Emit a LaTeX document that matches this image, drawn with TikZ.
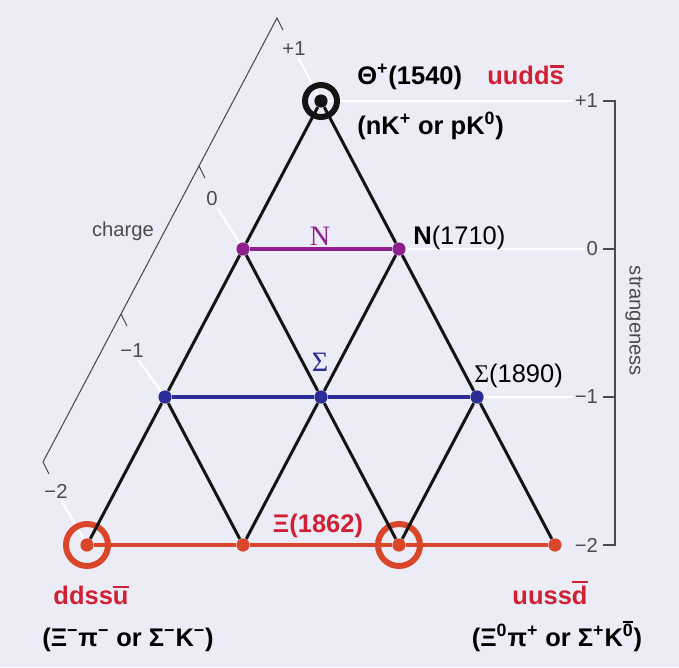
\documentclass[tikz,border=0pt]{standalone}
\usepackage{fontspec}
\setmainfont{Liberation Sans}
\newfontfamily\serf{Liberation Serif}
\usepackage[compat=1.1.0]{tikz-feynman}

\definecolor{paper}{RGB}{236,236,246}
\definecolor{latblack}{RGB}{20,20,20}
\definecolor{nviolet}{RGB}{142,32,142}
\definecolor{sblue}{RGB}{44,44,150}
\definecolor{xired}{RGB}{218,70,42}
\definecolor{quarkred}{RGB}{208,32,52}
\definecolor{axisgray}{RGB}{75,75,75}

\newcommand{\barred}[1]{\setbox0\hbox{#1}\rlap{\raisebox{\dimexpr\ht0+0.1em\relax}{\rule{\wd0}{0.09em}}}\box0}

\tikzset{
  latdot/.style={circle, inner sep=0pt, minimum size=7.5pt},
  latline/.style={draw=latblack, line width=1.7pt},
  nline/.style={draw=nviolet, line width=1.8pt},
  sline/.style={draw=sblue, line width=1.8pt},
  xline/.style={draw=xired, line width=1.8pt},
  guide/.style={draw=white, line width=1.2pt},
  axisline/.style={draw=axisgray, line width=0.6pt},
  ring/.style={line width=3.4pt},
  ticklab/.style={text=axisgray, font=\fontsize{11.5}{13}\selectfont, inner sep=1pt},
  axislab/.style={text=axisgray, font=\fontsize{11.5}{13}\selectfont},
  statelab/.style={font=\fontsize{14.5}{17}\selectfont\bfseries, inner sep=0pt},
  restlab/.style={font=\fontsize{14.5}{17}\selectfont, inner sep=0pt},
  quarklab/.style={statelab, text=quarkred},
}

\begin{document}
\begin{tikzpicture}[x=0.02cm, y=-0.02cm]
  \useasboundingbox (0,0) rectangle (679,667);
  \fill[paper] (0,0) rectangle (679,667);

  \begin{feynman}
    \vertex[latdot, fill=latblack] (th) at (321,101) {};
    \vertex[latdot, fill=nviolet] (n1) at (243,249) {};
    \vertex[latdot, fill=nviolet] (n2) at (399,249) {};
    \vertex[latdot, fill=sblue] (s1) at (165,397) {};
    \vertex[latdot, fill=sblue] (s2) at (321,397) {};
    \vertex[latdot, fill=sblue] (s3) at (477,397) {};
    \vertex[latdot, fill=xired] (x1) at (87,545) {};
    \vertex[latdot, fill=xired] (x2) at (243,545) {};
    \vertex[latdot, fill=xired] (x3) at (399,545) {};
    \vertex[latdot, fill=xired] (x4) at (555,545) {};

    % charge axis
    \node[ticklab] (cq1) at (294,49) {+1};
    \node[ticklab] (cq2) at (212,199) {0};
    \node[ticklab] (cq3) at (132,351) {−1};
    \node[ticklab] (cq4) at (56,491) {−2};
    \draw[axisline] (283,30) -- (277,18) -- (43,462) -- (49,474);
    \draw[axisline] (199,166) -- ++(6,12);
    \draw[axisline] (121,314) -- ++(6,12);
    \draw[guide] (cq1) -- (th);
    \draw[guide] (cq2) -- (n1);
    \draw[guide] (cq3) -- (s1);
    \draw[guide] (cq4) -- (x1);

    % strangeness axis
    \node[ticklab, anchor=east] (sq1) at (600,101) {+1};
    \node[ticklab, anchor=east] (sq2) at (600,249) {0};
    \node[ticklab, anchor=east] (sq3) at (600,397) {−1};
    \node[ticklab, anchor=east] (sq4) at (600,545) {−2};
    \draw[axisline] (603,101) -- (615,101) -- (615,545) -- (603,545);
    \draw[axisline] (603,249) -- (615,249);
    \draw[axisline] (603,397) -- (615,397);
    \draw[guide] (th) -- (sq1);
    \draw[guide] (n2) -- (sq2);
    \draw[guide] (s3) -- (sq3);

    \draw[latblack, ring] (th) circle (16);
    \draw[xired, ring] (x1) circle (21);
    \draw[xired, ring] (x3) circle (21);

    \diagram*{
      (th) -- [latline] (n1) -- [latline] (s1) -- [latline] (x1),
      (th) -- [latline] (n2) -- [latline] (s3) -- [latline] (x4),
      (n1) -- [latline] (s2) -- [latline] (x3),
      (n2) -- [latline] (s2) -- [latline] (x2),
      (s1) -- [latline] (x2),
      (s3) -- [latline] (x3),
      (n1) -- [nline] (n2),
      (s1) -- [sline] (s2) -- [sline] (s3),
      (x1) -- [xline] (x2) -- [xline] (x3) -- [xline] (x4),
    };
  \end{feynman}

  \node[axislab] (chg) at (123,231) {charge};
  \node[axislab, rotate=-90] (strg) at (634,321) {strangeness};

  \node[statelab, anchor=base west] (thname) at (357,84) {Θ\textsuperscript{+}(1540)};
  \node[quarklab, anchor=base west] (thquark) at (487,84) {uudd\barred{s}};
  \node[statelab, anchor=base west] (thdecay) at (357,134) {(nK\textsuperscript{+} or pK\textsuperscript{0})};
  \node[text=nviolet, font=\serf\fontsize{16}{18}\selectfont] (nname) at (320,236) {N};
  \node[restlab, anchor=base west] (nstar) at (413,244) {\textbf{N}(1710)};
  \node[text=sblue, font=\serf\fontsize{16}{18}\selectfont] (sname) at (320,362) {Σ};
  \node[restlab, anchor=base west] (sstar) at (474,382) {{\serf Σ}(1890)};
  \node[quarklab, anchor=base] (xiname) at (318,532) {Ξ(1862)};
  \node[quarklab, anchor=base] (xq1) at (91,604) {ddss\barred{u}};
  \node[quarklab, anchor=base] (xq2) at (550,604) {uuss\barred{d}};
  \node[statelab, anchor=base] (xd1) at (128,646) {(Ξ\textsuperscript{−}π\textsuperscript{−} or Σ\textsuperscript{−}K\textsuperscript{−})};
  \node[statelab, anchor=base] (xd2) at (557,646) {(Ξ\textsuperscript{0}π\textsuperscript{+} or Σ\textsuperscript{+}K\textsuperscript{\barred{0}})};
\end{tikzpicture}
\end{document}
